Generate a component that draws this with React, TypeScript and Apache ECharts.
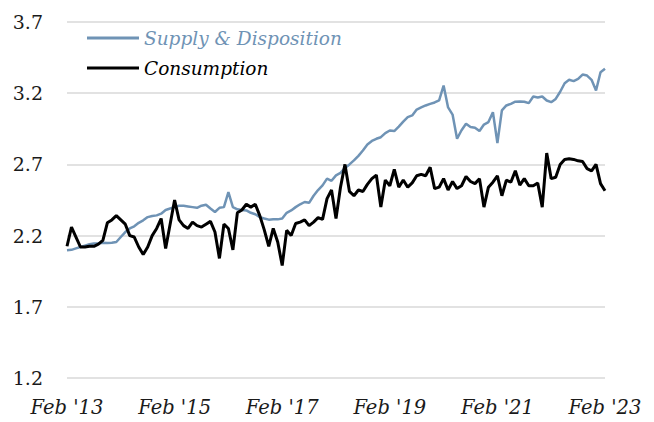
import React, { useEffect, useRef } from "react";
import * as echarts from "echarts";

const MONTHS = ["Jan", "Feb", "Mar", "Apr", "May", "Jun", "Jul", "Aug", "Sep", "Oct", "Nov", "Dec"];

// Monthly categories Feb 2013 .. Feb 2023
const categories: string[] = [];
for (let k = 0; k <= 120; k++) {
  const m = (1 + k) % 12;
  const y = 13 + Math.floor((1 + k) / 12);
  categories.push(`${MONTHS[m]} '${String(y).padStart(2, "0")}`);
}

const supplyDisposition = [
  2.097, 2.1, 2.11, 2.12, 2.13, 2.14, 2.144, 2.145, 2.15, 2.148,
  2.15, 2.155, 2.19, 2.225, 2.25, 2.265, 2.29, 2.307, 2.33, 2.338,
  2.342, 2.354, 2.38, 2.39, 2.4, 2.41, 2.41, 2.405, 2.4, 2.395,
  2.41, 2.417, 2.39, 2.366, 2.395, 2.4, 2.506, 2.4, 2.385, 2.38,
  2.377, 2.36, 2.35, 2.33, 2.32, 2.312, 2.315, 2.314, 2.32, 2.36,
  2.377, 2.4, 2.42, 2.436, 2.43, 2.48, 2.52, 2.553, 2.6, 2.585,
  2.623, 2.64, 2.675, 2.7, 2.728, 2.76, 2.798, 2.84, 2.865, 2.88,
  2.891, 2.92, 2.938, 2.934, 2.965, 3.0, 3.032, 3.044, 3.085, 3.1,
  3.114, 3.125, 3.135, 3.149, 3.254, 3.1, 3.05, 2.88, 2.94, 2.985,
  2.962, 2.957, 2.934, 2.98, 2.997, 3.067, 2.85, 3.079, 3.114, 3.125,
  3.14, 3.142, 3.14, 3.13, 3.177, 3.17, 3.177, 3.149, 3.137, 3.16,
  3.21, 3.27, 3.294, 3.285, 3.3, 3.331, 3.324, 3.294, 3.219, 3.347,
  3.371,
];

const consumption = [
  2.125, 2.26, 2.19, 2.12, 2.12, 2.125, 2.125, 2.14, 2.167, 2.29,
  2.31, 2.34, 2.31, 2.28, 2.2, 2.19, 2.12, 2.067, 2.12, 2.2,
  2.25, 2.32, 2.11, 2.28, 2.45, 2.31, 2.27, 2.25, 2.295, 2.27,
  2.26, 2.28, 2.3, 2.225, 2.04, 2.28, 2.25, 2.1, 2.36, 2.38,
  2.42, 2.4, 2.42, 2.34, 2.24, 2.125, 2.25, 2.155, 1.99, 2.237,
  2.2, 2.285, 2.295, 2.31, 2.27, 2.295, 2.326, 2.314, 2.46, 2.52,
  2.32, 2.54, 2.7, 2.51, 2.48, 2.52, 2.51, 2.56, 2.6, 2.625,
  2.4, 2.59, 2.55, 2.665, 2.54, 2.59, 2.54, 2.57, 2.62, 2.63,
  2.62, 2.68, 2.53, 2.54, 2.6, 2.52, 2.58, 2.53, 2.55, 2.615,
  2.58, 2.565, 2.6, 2.4, 2.54, 2.575, 2.62, 2.48, 2.59, 2.575,
  2.655, 2.555, 2.6, 2.55, 2.55, 2.57, 2.4, 2.78, 2.6, 2.61,
  2.7, 2.735, 2.74, 2.735, 2.725, 2.72, 2.67, 2.655, 2.7, 2.565,
  2.515,
];

const yTicks = [1.2, 1.7, 2.2, 2.7, 3.2, 3.7];

const SUPPLY_COLOR = "#6f93b5";
const CONS_COLOR = "#000000";
const FONT = "DejaVu Serif";

export default function App() {
  const ref = useRef<HTMLDivElement>(null);

  useEffect(() => {
    if (!ref.current) return;
    const chart = echarts.init(ref.current, undefined, { renderer: "svg" });
    chart.setOption({
      animation: false,
      backgroundColor: "#ffffff",
      textStyle: { fontFamily: FONT },
      grid: { left: 67, right: 49, top: 22, bottom: 44, containLabel: false },
      legend: {
        orient: "vertical",
        left: 87,
        top: 27,
        padding: 0,
        itemWidth: 52,
        itemHeight: 3,
        itemGap: 8,
        icon: "rect",
        data: [
          { name: "Supply & Disposition", textStyle: { color: SUPPLY_COLOR } },
          { name: "Consumption", textStyle: { color: "#000" } },
        ],
        textStyle: {
          fontFamily: FONT,
          fontStyle: "italic",
          fontSize: 18.5,
          lineHeight: 22,
        },
      },
      xAxis: {
        type: "category",
        boundaryGap: false,
        data: categories,
        axisLine: { show: false },
        axisTick: { show: false },
        axisLabel: {
          interval: 23,
          margin: 19,
          color: "#1a1a1a",
          fontFamily: FONT,
          fontStyle: "italic",
          fontSize: 19.5,
        },
        splitLine: { show: false },
      },
      yAxis: {
        type: "value",
        min: yTicks[0],
        max: yTicks[yTicks.length - 1],
        interval: 0.5,
        axisLine: { show: false },
        axisTick: { show: false },
        axisLabel: {
          margin: 24,
          color: "#1a1a1a",
          fontFamily: FONT,
          fontSize: 19,
          formatter: (v: number) => v.toFixed(1),
        },
        splitLine: { show: true, lineStyle: { color: "#d9d9d9", width: 1.5 } },
      },
      series: [
        {
          name: "Supply & Disposition",
          type: "line",
          data: supplyDisposition,
          showSymbol: false,
          symbol: "none",
          lineStyle: { color: SUPPLY_COLOR, width: 2.5 },
          itemStyle: { color: SUPPLY_COLOR },
        },
        {
          name: "Consumption",
          type: "line",
          data: consumption,
          showSymbol: false,
          symbol: "none",
          lineStyle: { color: CONS_COLOR, width: 3 },
          itemStyle: { color: CONS_COLOR },
        },
      ],
    });
    return () => chart.dispose();
  }, []);

  return (
    <div
      ref={ref}
      style={{ position: "fixed", left: 0, top: 0, width: 654, height: 422, background: "#fff" }}
    />
  );
}
